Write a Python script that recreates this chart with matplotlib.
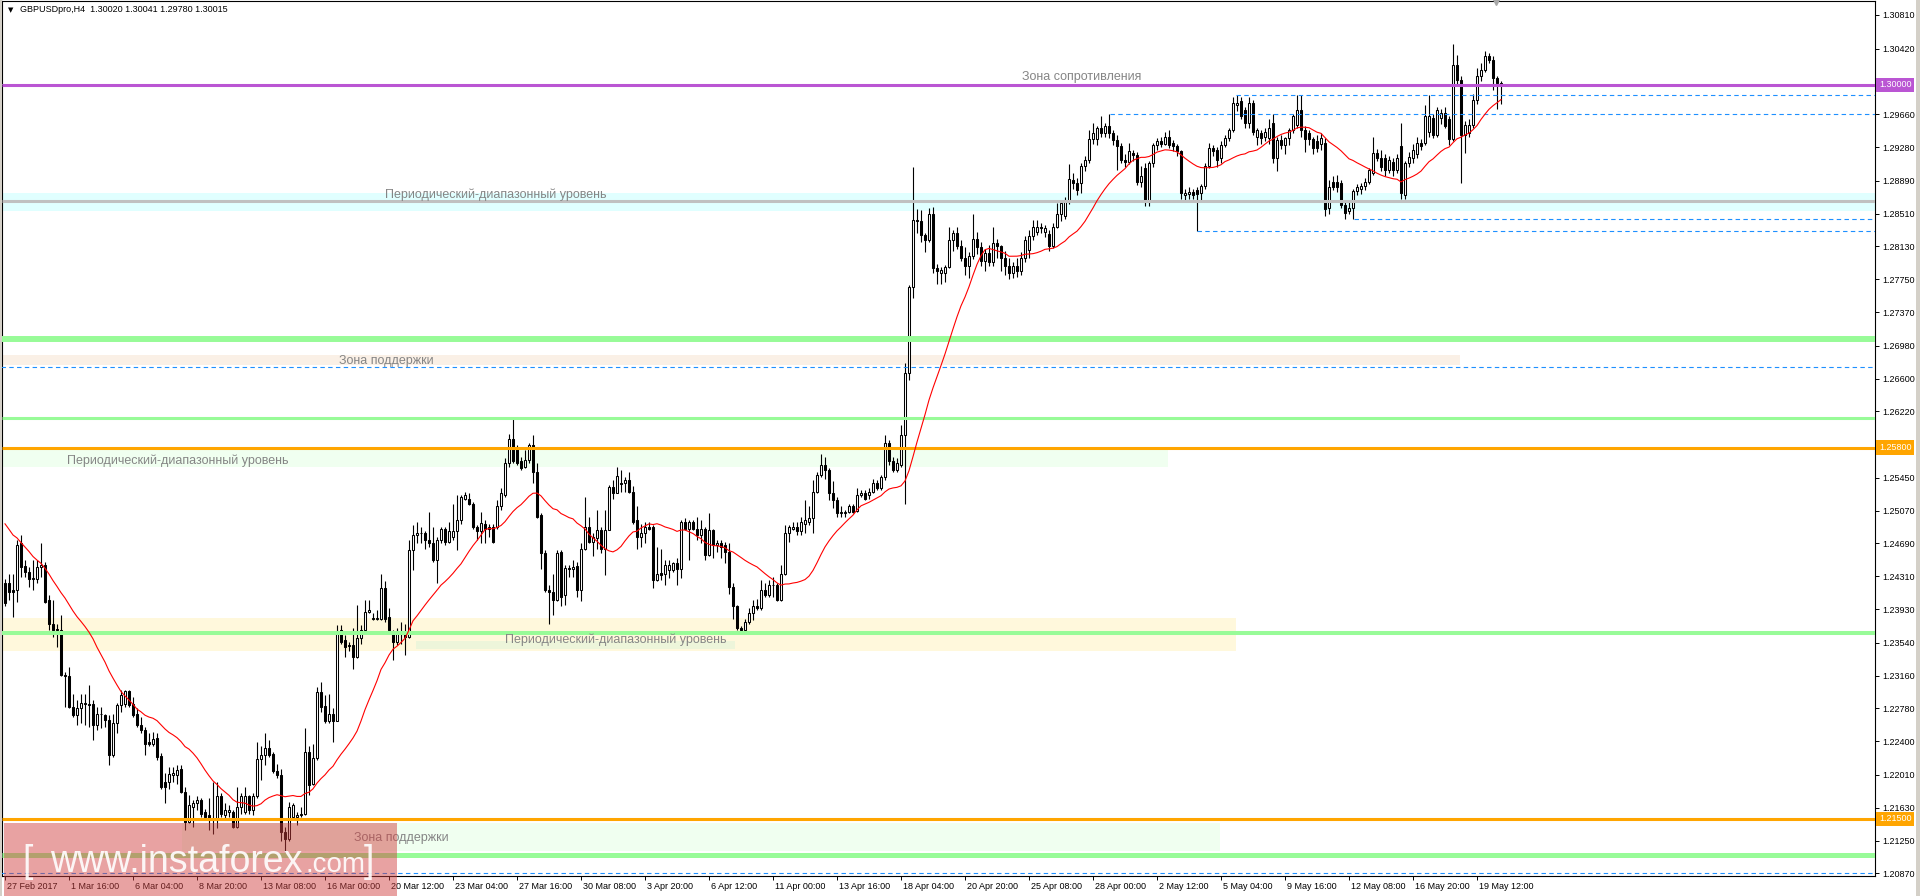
import numpy as np
import matplotlib
matplotlib.use('Agg')
import matplotlib.pyplot as plt
import matplotlib.transforms as mtransforms
from matplotlib.patches import Rectangle

plt.rcParams['font.family'] = ['Liberation Sans', 'DejaVu Sans']

# GBPUSD H4 candles, prices in pips (price * 10000)
open_pips = [
    12423,12423,12415,12415,12469,12443,12436,12428,12428,12442,
    12444,12403,12376,12370,12369,12317,12315,12280,12270,12278,
    12284,12283,12283,12259,12272,12270,12264,12224,12261,12282,
    12283,12298,12283,12272,12259,12253,12239,12237,12244,12223,
    12193,12193,12201,12201,12208,12181,12147,12164,12168,12172,
    12158,12154,12151,12151,12176,12154,12158,12158,12141,12164,
    12158,12176,12160,12176,12219,12224,12232,12225,12205,12201,
    12135,12127,12152,12152,12154,12156,12228,12191,12220,12297,
    12281,12263,12272,12263,12369,12357,12351,12351,12338,12359,
    12369,12390,12383,12382,12382,12417,12384,12365,12355,12367,
    12365,12361,12461,12479,12481,12481,12473,12469,12450,12473,
    12486,12471,12477,12483,12496,12521,12521,12515,12488,12484,
    12492,12486,12488,12488,12512,12525,12562,12590,12579,12564,
    12558,12566,12583,12552,12502,12458,12415,12413,12403,12459,
    12409,12441,12439,12443,12415,12463,12488,12471,12475,12485,
    12463,12485,12534,12528,12539,12539,12542,12529,12496,12477,
    12481,12488,12488,12427,12435,12434,12438,12438,12446,12440,
    12494,12486,12494,12486,12479,12486,12456,12485,12467,12469,
    12467,12459,12419,12396,12371,12369,12378,12388,12396,12394,
    12415,12409,12421,12421,12403,12434,12481,12486,12488,12483,
    12492,12494,12498,12529,12548,12560,12554,12527,12519,12504,
    12504,12505,12512,12507,12525,12527,12525,12529,12539,12533,
    12546,12585,12564,12554,12560,12595,12666,12766,12844,12843,
    12826,12820,12851,12788,12782,12782,12789,12820,12828,12813,
    12800,12790,12802,12822,12812,12796,12805,12795,12817,12813,
    12800,12790,12782,12790,12784,12800,12809,12825,12830,12836,
    12830,12827,12813,12836,12850,12848,12865,12890,12886,12886,
    12906,12913,12937,12937,12950,12944,12952,12944,12936,12929,
    12913,12911,12921,12919,12888,12904,12865,12910,12931,12935,
    12932,12940,12933,12929,12923,12873,12874,12876,12878,12875,
    12883,12906,12927,12925,12915,12931,12939,12948,12977,12981,
    12971,12956,12979,12940,12944,12940,12938,12956,12915,12936,
    12930,12938,12948,12954,12971,12948,12944,12937,12935,12932,
    12933,12857,12888,12888,12886,12861,12854,12858,12877,12880,
    12883,12888,12898,12921,12915,12915,12902,12911,12902,12929,
    12873,12910,12915,12920,12933,12933,12946,12962,12942,12962,
    12968,12960,12937,13023,13006,12942,12944,12954,12983,13010,
    13017,13033,13029,13008,13002.0,
]
high_pips = [
    12428,12434,12434,12473,12479,12450,12442,12450,12450,12469,
    12448,12409,12403,12376,12386,12320,12326,12295,12288,12295,
    12295,12305,12288,12280,12280,12272,12270,12272,12284,12299,
    12299,12299,12291,12278,12268,12257,12249,12251,12249,12226,
    12203,12210,12210,12212,12212,12187,12178,12172,12176,12174,
    12162,12174,12193,12193,12180,12168,12166,12160,12187,12180,
    12187,12178,12180,12239,12234,12249,12241,12228,12214,12208,
    12141,12170,12168,12158,12164,12255,12235,12237,12303,12309,
    12293,12295,12278,12374,12374,12363,12355,12371,12398,12374,
    12403,12403,12388,12392,12434,12425,12394,12369,12371,12378,
    12376,12473,12490,12494,12488,12484,12506,12488,12477,12488,
    12488,12494,12515,12525,12525,12529,12527,12517,12490,12506,
    12496,12492,12492,12519,12533,12568,12596,12614,12583,12569,
    12577,12585,12595,12562,12504,12461,12421,12434,12461,12461,
    12444,12444,12450,12448,12469,12523,12500,12481,12508,12488,
    12508,12537,12542,12557,12554,12546,12552,12535,12512,12492,
    12494,12494,12490,12465,12463,12450,12450,12448,12452,12496,
    12498,12496,12496,12500,12496,12488,12504,12486,12473,12473,
    12471,12469,12423,12398,12373,12382,12394,12403,12405,12427,
    12423,12427,12430,12423,12444,12490,12490,12494,12494,12500,
    12519,12512,12542,12552,12573,12569,12556,12541,12523,12512,
    12508,12515,12515,12533,12531,12531,12533,12544,12542,12548,
    12595,12589,12569,12568,12606,12678,12768,12905,12856,12855,
    12828,12857,12859,12793,12789,12791,12836,12832,12836,12820,
    12812,12806,12850,12830,12818,12810,12815,12836,12822,12815,
    12808,12800,12795,12800,12806,12825,12832,12844,12844,12840,
    12838,12832,12840,12863,12866,12870,12908,12898,12892,12910,
    12918,12948,12956,12952,12964,12956,12966,12948,12942,12933,
    12920,12933,12925,12922,12906,12910,12912,12933,12938,12940,
    12946,12948,12936,12932,12925,12880,12882,12880,12882,12885,
    12910,12933,12931,12928,12935,12942,12950,12986,12988,12986,
    12975,12986,12982,12950,12948,12950,12960,12966,12940,12942,
    12940,12950,12966,12988,12988,12952,12948,12940,12942,12944,
    12938,12890,12895,12896,12890,12865,12866,12880,12885,12886,
    12892,12904,12940,12926,12925,12920,12918,12915,12920,12956,
    12912,12922,12932,12940,12937,12977,12988,12966,12975,12972,
    12975,12964,13047,13035,13010,12958,12960,12990,13020,13025,
    13039,13037,13034,13010,13004.1,
]
low_pips = [
    12396,12403,12384,12401,12430,12430,12419,12415,12423,12430,
    12400,12369,12361,12349,12315,12280,12278,12268,12259,12261,
    12259,12257,12241,12253,12255,12257,12212,12222,12249,12274,
    12280,12280,12268,12257,12249,12224,12234,12234,12218,12185,
    12168,12185,12193,12191,12180,12137,12145,12141,12160,12152,
    12149,12137,12133,12139,12152,12151,12152,12139,12139,12156,
    12156,12156,12154,12174,12195,12212,12222,12203,12197,12124,
    12112,12125,12149,12143,12152,12154,12178,12189,12218,12274,
    12261,12261,12239,12263,12353,12338,12345,12324,12336,12353,
    12365,12388,12380,12380,12380,12378,12365,12334,12351,12353,
    12340,12359,12438,12469,12469,12463,12465,12448,12423,12469,
    12467,12469,12473,12461,12492,12519,12513,12486,12473,12469,
    12469,12477,12469,12486,12508,12523,12558,12562,12560,12554,
    12556,12562,12539,12498,12440,12413,12376,12386,12402,12396,
    12398,12430,12430,12407,12402,12461,12469,12454,12463,12458,
    12432,12485,12521,12527,12529,12529,12527,12492,12463,12465,
    12469,12485,12417,12425,12427,12421,12429,12436,12421,12429,
    12485,12450,12485,12473,12469,12450,12454,12452,12459,12452,
    12446,12411,12382,12369,12365,12367,12376,12380,12392,12392,
    12407,12407,12407,12402,12402,12432,12471,12485,12479,12479,
    12481,12490,12481,12527,12546,12544,12519,12510,12500,12500,
    12500,12504,12504,12506,12523,12519,12521,12527,12531,12531,
    12542,12560,12552,12552,12558,12515,12658,12753,12828,12818,
    12807,12818,12782,12770,12770,12772,12788,12808,12810,12796,
    12780,12776,12798,12804,12790,12785,12790,12790,12800,12785,
    12780,12775,12776,12778,12780,12795,12800,12820,12826,12828,
    12824,12808,12811,12834,12842,12845,12862,12880,12872,12875,
    12900,12910,12932,12930,12940,12940,12938,12930,12902,12910,
    12905,12908,12912,12884,12882,12860,12860,12905,12925,12928,
    12930,12927,12924,12918,12868,12866,12868,12868,12831,12866,
    12880,12904,12918,12905,12910,12928,12935,12945,12970,12960,
    12950,12950,12942,12930,12932,12935,12932,12910,12900,12926,
    12920,12930,12944,12950,12940,12922,12930,12920,12922,12925,
    12848,12850,12878,12876,12858,12845,12850,12845,12872,12874,
    12878,12885,12896,12912,12900,12895,12898,12895,12898,12868,
    12868,12905,12910,12915,12925,12930,12940,12938,12940,12955,
    12950,12930,12935,13000,12886,12921,12940,12950,12978,13005,
    13015,13025,12994,12972,12978.0,
]
close_pips = [
    12400,12413,12413,12467,12442,12436,12428,12429,12442,12444,
    12401,12376,12369,12369,12317,12315,12280,12270,12278,12284,
    12283,12282,12259,12272,12271,12264,12224,12261,12282,12293,
    12298,12282,12270,12259,12253,12237,12237,12243,12222,12187,
    12187,12202,12203,12207,12181,12147,12166,12168,12172,12156,
    12152,12151,12151,12176,12156,12160,12160,12141,12164,12176,
    12176,12160,12176,12219,12224,12232,12224,12205,12201,12135,
    12127,12164,12166,12155,12156,12228,12189,12220,12297,12280,
    12263,12272,12263,12367,12355,12349,12350,12338,12359,12369,
    12390,12392,12382,12382,12417,12382,12369,12355,12367,12365,
    12361,12461,12479,12481,12481,12473,12469,12450,12473,12486,
    12471,12483,12483,12496,12523,12525,12515,12488,12484,12493,
    12486,12488,12471,12512,12527,12562,12590,12564,12562,12556,
    12566,12583,12552,12500,12458,12415,12413,12403,12458,12407,
    12441,12439,12442,12415,12463,12488,12471,12477,12485,12463,
    12485,12534,12528,12547,12538,12542,12529,12494,12477,12481,
    12488,12486,12427,12434,12433,12444,12444,12446,12440,12494,
    12486,12494,12486,12479,12486,12456,12485,12467,12469,12465,
    12459,12419,12396,12371,12369,12378,12388,12396,12394,12415,
    12409,12421,12421,12403,12434,12481,12488,12488,12483,12494,
    12496,12498,12529,12548,12560,12554,12527,12519,12504,12506,
    12506,12512,12506,12525,12528,12521,12529,12539,12533,12546,
    12585,12564,12554,12562,12595,12666,12766,12844,12842,12826,
    12820,12851,12788,12784,12786,12789,12820,12828,12813,12800,
    12790,12802,12822,12812,12796,12805,12795,12817,12813,12800,
    12790,12782,12790,12784,12800,12820,12825,12836,12836,12834,
    12834,12813,12836,12850,12863,12865,12891,12886,12878,12906,
    12913,12937,12944,12950,12944,12952,12944,12936,12929,12913,
    12911,12923,12919,12888,12894,12865,12910,12931,12935,12932,
    12940,12931,12929,12923,12875,12875,12876,12872,12874,12883,
    12906,12927,12923,12913,12931,12939,12948,12979,12979,12964,
    12956,12979,12946,12948,12938,12946,12950,12915,12936,12930,
    12938,12948,12964,12971,12948,12937,12937,12927,12927,12938,
    12856,12882,12882,12882,12861,12852,12858,12877,12882,12883,
    12888,12902,12921,12915,12905,12902,12913,12902,12915,12875,
    12910,12917,12925,12933,12929,12964,12964,12942,12971,12968,
    12952,12937,13023,13006,12942,12954,12954,12983,13010,13017,
    13033,13029,13008,13002,13001.5,
]
# closes before the first visible bar (only feed the moving average)
prior_close_pips = [12540, 12545, 12535, 12550, 12540, 12530, 12545, 12525, 12520, 12515,
                    12510, 12520, 12505, 12460, 12440, 12430, 12420, 12410, 12395]
ma_period = 20

date_labels = ['27 Feb 2017', '1 Mar 16:00', '6 Mar 04:00', '8 Mar 20:00', '13 Mar 08:00',
               '16 Mar 00:00', '20 Mar 12:00', '23 Mar 04:00', '27 Mar 16:00', '30 Mar 08:00',
               '3 Apr 20:00', '6 Apr 12:00', '11 Apr 00:00', '13 Apr 16:00', '18 Apr 04:00',
               '20 Apr 20:00', '25 Apr 08:00', '28 Apr 00:00', '2 May 12:00', '5 May 04:00',
               '9 May 16:00', '12 May 08:00', '16 May 20:00', '19 May 12:00']
price_ticks = [1.30810, 1.30420, 1.29660, 1.29280, 1.28890, 1.28510, 1.28130, 1.27750,
               1.27370, 1.26980, 1.26600, 1.26220, 1.25450, 1.25070, 1.24690, 1.24310,
               1.23930, 1.23540, 1.23160, 1.22780, 1.22400, 1.22010, 1.21630, 1.21250, 1.20870]

# levels drawn on the chart
resistance = 1.30000
levels_orange = [1.25800, 1.21500]
dotted_levels = [(1.29884, 307.75), (1.29660, 276.25), (1.28451, 337.25), (1.28312, 298.0),
                 (1.26730, -1.0), (1.20870, -1.0)]

opens = np.array(open_pips) / 10000
highs = np.array(high_pips) / 10000
lows = np.array(low_pips) / 10000
closes = np.array(close_pips) / 10000
n = len(closes)
x = np.arange(n)

W, H = 1920, 896
fig = plt.figure(figsize=(W / 100, H / 100), dpi=100)
ax = fig.add_axes([2 / W, 20 / H, 1873 / W, 875 / H])
x0, x1 = -0.75, 467.5
ax.set_xlim(x0, x1)
ax.set_ylim(1.20839, 1.30972)

# zones (background rectangles)
def band(xa, xb, ya, yb, color, z=0.5):
    ax.add_patch(Rectangle((xa, ya), xb - xa, yb - ya, facecolor=color, edgecolor='none', zorder=z))

band(x0, x1, 1.28540, 1.28745, '#E0FFFF')
band(x0, 363.75, 1.26757, 1.26872, '#FAF0E6')
band(x0, 290.75, 1.25572, 1.25780, '#F0FFF0')
band(x0, 307.75, 1.23448, 1.23823, '#FFF8DC')
band(102.75, 182.5, 1.23468, 1.23560, '#EDF5DA', 0.6)
band(44.25, 303.75, 1.21129, 1.21453, '#F0FFF0')

# candles
bull = closes >= opens
body_lo = np.minimum(opens, closes)
body_h = np.maximum(np.abs(closes - opens), 0.00003)
ax.vlines(x, lows, highs, color='black', linewidth=0.8, zorder=3)
ax.bar(x[bull], body_h[bull], bottom=body_lo[bull], width=0.6, facecolor='white',
       edgecolor='black', linewidth=0.75, zorder=3.5)
ax.bar(x[~bull], body_h[~bull], bottom=body_lo[~bull], width=0.6, facecolor='black',
       edgecolor='black', linewidth=0.75, zorder=3.5)

# horizontal levels
ax.hlines(1.30015, x0, x1, color='#C0C0C0', linewidth=0.7, zorder=4)
ax.hlines(resistance, x0, x1, color='#BA55D3', linewidth=2.2, zorder=4)
ax.hlines(1.28656, x0, x1, color='#C0C0C0', linewidth=2.2, zorder=4)
ax.hlines(1.27058, x0, x1, color='#98FB98', linewidth=4.3, zorder=4)
ax.hlines(1.26139, x0, x1, color='#98FB98', linewidth=2.2, zorder=4)
ax.hlines(1.23653, x0, x1, color='#98FB98', linewidth=2.9, zorder=4)
ax.hlines(1.21082, x0, x1, color='#98FB98', linewidth=3.6, zorder=4)
for lv in levels_orange:
    ax.hlines(lv, x0, x1, color='#FFA500', linewidth=2.2, zorder=4)
for lv, start in dotted_levels:
    ax.plot([start, x1], [lv, lv], color='#1E90FF', linewidth=0.8, linestyle=(0, (4, 3)), zorder=4)

# moving average
all_c = np.concatenate([np.array(prior_close_pips) / 10000, closes])
ma = np.convolve(all_c, np.ones(ma_period) / ma_period, mode='valid')
ax.plot(x, ma, color='red', linewidth=0.8, zorder=5)

# zone captions
cap = dict(color='#858585', fontsize=9, ha='center', va='center', zorder=6)
ax.text(269.25, 1.30092, 'Зона сопротивления', **cap)
ax.text(122.75, 1.28726, 'Периодический-диапазонный уровень', **cap)
ax.text(95.25, 1.26803, 'Зона поддержки', **cap)
ax.text(43.1, 1.25652, 'Периодический-диапазонный уровень', **cap)
ax.text(152.75, 1.23572, 'Периодический-диапазонный уровень', **cap)
ax.text(99.1, 1.21284, 'Зона поддержки', **cap)

# axes styling
for s in ax.spines.values():
    s.set_color('black')
    s.set_linewidth(0.8)
ax.yaxis.tick_right()
ax.set_yticks(price_ticks)
ax.set_yticklabels([f'{t:.5f}' for t in price_ticks])
ax.tick_params(axis='y', direction='out', length=3, width=0.7, pad=2, labelsize=6.5)
ax.set_xticks(np.arange(len(date_labels)) * 16)
ax.set_xticklabels(date_labels)
ax.tick_params(axis='x', direction='out', length=3, width=0.7, pad=1.5, labelsize=6.5)
shift = mtransforms.ScaledTranslation(2 / 100, 0, fig.dpi_scale_trans)
for lbl in ax.get_xticklabels():
    lbl.set_ha('left')
    lbl.set_transform(lbl.get_transform() + shift)

# highlighted prices on the scale
trans = mtransforms.blended_transform_factory(ax.transAxes, ax.transData)
for val, txt, col in [(1.30000, '1.30000', '#BA55D3'), (1.25800, '1.25800', '#FFA500'),
                      (1.21500, '1.21500', '#FFA500')]:
    ax.text(1.0022, val, txt, transform=trans, ha='left', va='center', fontsize=6.5,
            color='white', clip_on=False, zorder=10,
            bbox=dict(boxstyle='square,pad=0.3', fc=col, ec='none'))

# chart shift marker
ax.plot([372.75], [1.30962], marker='v', color='#A8A8A8', markersize=4, clip_on=False, zorder=6)

# header
fig.text(8 / W, 1 - 10 / H, '▼', fontsize=5, va='center', ha='left', family=['DejaVu Sans'])
fig.text(20 / W, 1 - 10 / H, 'GBPUSDpro,H4  1.30020 1.30041 1.29780 1.30015',
         fontsize=6.5, va='center', ha='left')

# window edges
fig.add_artist(Rectangle((1916 / W, 0), 4 / W, 1, transform=fig.transFigure,
                         facecolor='#D4D0C8', edgecolor='none'))
fig.add_artist(Rectangle((0, 0), 1.5 / W, 1, transform=fig.transFigure,
                         facecolor='#D4D0C8', edgecolor='none'))

# watermark
fig.add_artist(Rectangle((4 / W, 0), 393 / W, 73 / H, transform=fig.transFigure,
                         facecolor=(208 / 255, 62 / 255, 62 / 255), alpha=0.48,
                         edgecolor='none', zorder=20))
wm = dict(color='white', alpha=0.9, va='baseline', ha='left', zorder=21)
fig.text(22 / W, 24 / H, '[', fontsize=27, **wm)
fig.text(50 / W, 24 / H, 'www.instaforex', fontsize=27, **wm)
fig.text(306 / W, 24 / H, '.com', fontsize=20, **wm)
fig.text(364 / W, 24 / H, ']', fontsize=27, **wm)

fig.savefig('out.png', dpi=100)
